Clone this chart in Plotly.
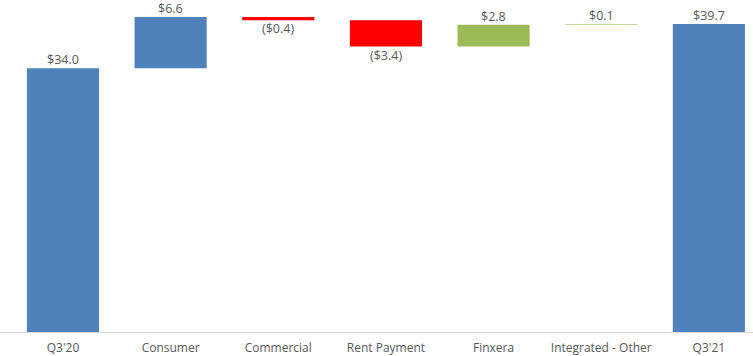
import plotly.graph_objects as go

# Revenue bridge Q3'20 -> Q3'21 ($M)
categories = ["Q3'20", "Consumer", "Commercial", "Rent Payment", "Finxera",
              "Integrated - Other", "Q3'21"]
start_value = 34.0
changes = [6.6, -0.4, -3.4, 2.8, 0.1]
bar_colors = ["#4F81BD", "#4F81BD", "#FF0000", "#FF0000", "#9BBB59",
              "#C4D79B", "#4F81BD"]

# Build floating bars: totals start at zero, changes start at the running sum
end_value = round(start_value + sum(changes), 1)
bases = [0.0]
heights = [start_value]
running = start_value
for d in changes:
    bases.append(running)
    heights.append(d)
    running += d
bases.append(0.0)
heights.append(end_value)


def fmt(v):
    return f"(${abs(v):.1f})" if v < 0 else f"${v:.1f}"


labels = [fmt(v) for v in heights]

fig = go.Figure(go.Bar(
    x=categories,
    y=heights,
    base=bases,
    marker=dict(color=bar_colors, line=dict(width=0)),
    cliponaxis=False,
    hoverinfo="skip",
))

# Value labels: above the bar for gains/totals, below it for declines
for cat, b, h, lab in zip(categories, bases, heights, labels):
    shift = 8.5 if h >= 0 else -8.5
    fig.add_annotation(
        x=cat, y=b + h, text=lab, showarrow=False,
        yanchor="middle", yshift=shift,
        font=dict(family="Open Sans", size=12.5, color="#595959"),
    )

fig.update_layout(
    width=753, height=356,
    margin=dict(l=0, r=0, t=0, b=24),
    paper_bgcolor="white", plot_bgcolor="white",
    bargap=0.33,
    showlegend=False,
    font=dict(family="Open Sans", size=12, color="#595959"),
)
fig.update_xaxes(
    type="category",
    range=[-0.585, 6.41],
    showline=True, linecolor="#D9D9D9", linewidth=1,
    showgrid=False, zeroline=False,
    ticks="outside", ticklen=5, tickcolor="rgba(0,0,0,0)",
    tickfont=dict(family="Open Sans", size=12, color="#595959"),
    automargin=False,
)
fig.update_yaxes(
    range=[0, 42.8],
    visible=False, showgrid=False, zeroline=False,
    automargin=False,
)

fig.write_html("out.html")
